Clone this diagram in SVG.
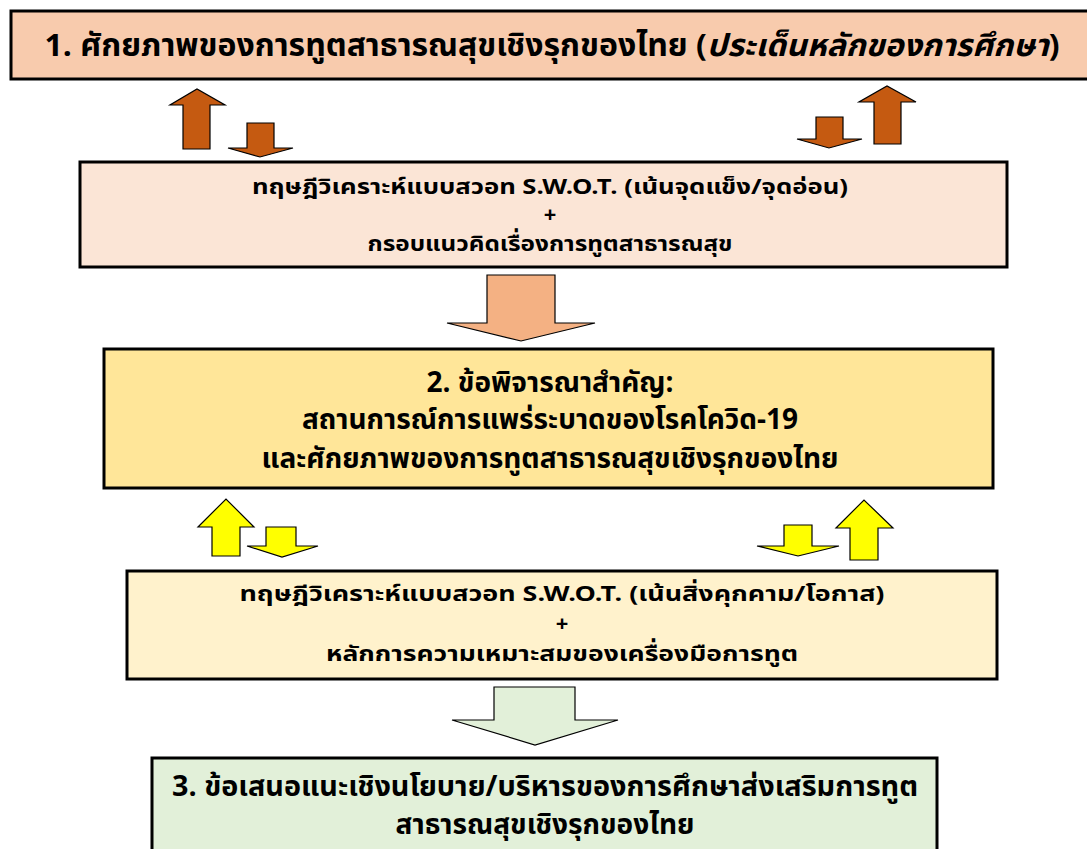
<svg xmlns="http://www.w3.org/2000/svg" width="1087" height="849" viewBox="0 0 1087 849">
<style>
.box{stroke:#000;stroke-width:3}
.arr{stroke:#000;stroke-width:1.2;stroke-linejoin:miter}
.t{font-family:"Noto Sans Thai","Noto Sans","DejaVu Sans",sans-serif;font-weight:bold;fill:#000;text-anchor:middle}
.big{font-size:28px}
.sm{font-size:22px}
</style>
<rect width="1087" height="849" fill="#fff"/>
<g id="node1">
<rect class="box" x="11" y="11" width="1090" height="68" fill="#F8CBAD"/>
<text class="t" font-size="31" x="552" y="56" textLength="1015" lengthAdjust="spacingAndGlyphs">1. ศักยภาพของการทูตสาธารณสุขเชิงรุกของไทย (<tspan font-style="italic">ประเด็นหลักของการศึกษา</tspan>)</text>
</g>
<g id="node2">
<rect class="box" x="80" y="162" width="927" height="105" fill="#FBE5D6"/>
<text class="t sm" x="550" y="194" textLength="596" lengthAdjust="spacingAndGlyphs">ทฤษฎีวิเคราะห์แบบสวอท S.W.O.T. (เน้นจุดแข็ง/จุดอ่อน)</text>
<text class="t sm" x="550" y="222">+</text>
<text class="t sm" x="550" y="251" textLength="365" lengthAdjust="spacingAndGlyphs">กรอบแนวคิดเรื่องการทูตสาธารณสุข</text>
</g>
<g id="node3">
<rect class="box" x="104" y="349" width="889" height="139" fill="#FFE699"/>
<text class="t big" x="550" y="392">2. ข้อพิจารณาสำคัญ:</text>
<text class="t big" x="550" y="429">สถานการณ์การแพร่ระบาดของโรคโควิด-19</text>
<text class="t big" x="550" y="468">และศักยภาพของการทูตสาธารณสุขเชิงรุกของไทย</text>
</g>
<g id="node4">
<rect class="box" x="127" y="571" width="870" height="108" fill="#FFF2CC"/>
<text class="t sm" x="562" y="601" textLength="645" lengthAdjust="spacingAndGlyphs">ทฤษฎีวิเคราะห์แบบสวอท S.W.O.T. (เน้นสิ่งคุกคาม/โอกาส)</text>
<text class="t sm" x="562" y="631">+</text>
<text class="t sm" x="562" y="661" textLength="472" lengthAdjust="spacingAndGlyphs">หลักการความเหมาะสมของเครื่องมือการทูต</text>
</g>
<g id="node5">
<rect class="box" x="152" y="758" width="785" height="120" fill="#E2F0D9"/>
<text class="t big" x="545" y="796" textLength="746" lengthAdjust="spacingAndGlyphs">3. ข้อเสนอแนะเชิงนโยบาย/บริหารของการศึกษาส่งเสริมการทูต</text>
<text class="t big" x="545" y="834">สาธารณสุขเชิงรุกของไทย</text>
</g>
<g id="connectors">
<polygon class="arr" fill="#C55A11" points="183,149 183,105 170,105 197,89 225,105 210,105 210,149"/>
<polygon class="arr" fill="#C55A11" points="247,123 274,123 274,148 293,148 260,157 228,148 247,148"/>
<polygon class="arr" fill="#C55A11" points="816,117 843,117 843,139 862,139 829,148 797,139 816,139"/>
<polygon class="arr" fill="#C55A11" points="874,144 874,102 859,102 887,86 916,102 901,102 901,144"/>
<polygon class="arr" fill="#F4B183" points="487,275 555,275 555,323 595,323 521,341 447,323 487,323"/>
<polygon class="arr" fill="#FFFF00" points="212,556 212,527 198,527 226,499 254,527 240,527 240,556"/>
<polygon class="arr" fill="#FFFF00" points="266,527 296,527 296,546 318,546 282,557 247,546 266,546"/>
<polygon class="arr" fill="#FFFF00" points="784,525 812,525 812,546 839,546 798,556 757,546 784,546"/>
<polygon class="arr" fill="#FFFF00" points="850,560 850,528 836,528 864,500 893,528 878,528 878,560"/>
<polygon class="arr" fill="#E2F0D9" points="494,687 575,687 575,720 618,720 535,745 452,720 494,720"/>
</g>
</svg>
